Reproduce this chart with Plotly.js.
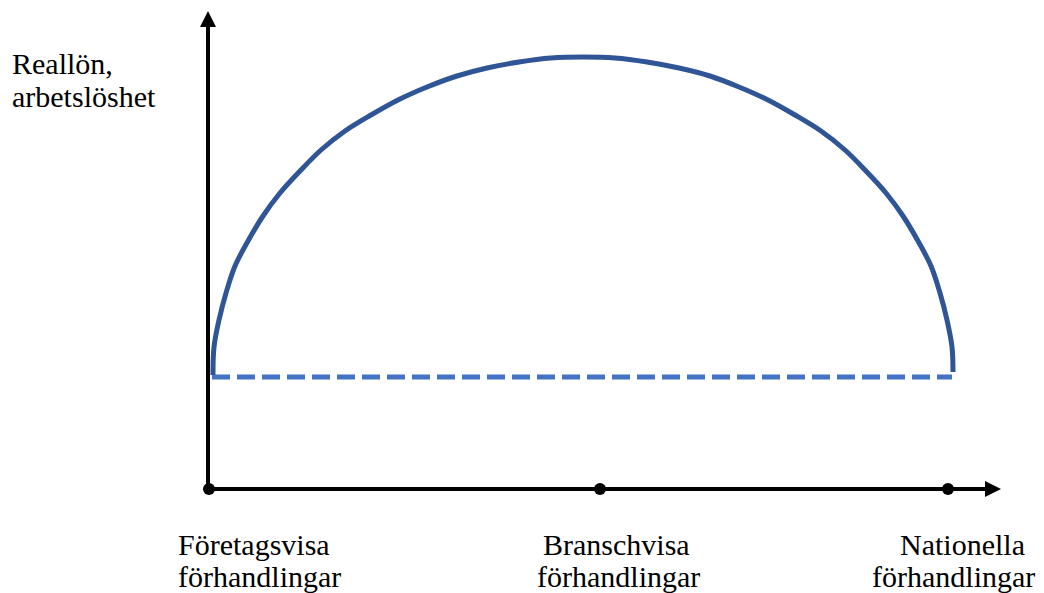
<!DOCTYPE html>
<html>
<head>
<meta charset="utf-8">
<script src="https://cdn.plot.ly/plotly-3.0.1.min.js"></script>
<style>html,body{margin:0;padding:0;background:#fff;}#chart{width:1044px;height:593px;}</style>
</head>
<body>
<div id="chart"></div>
<script>
// Hump-shaped curve (real wage / unemployment vs. degree of bargaining centralisation)
const curveX = [4,5,10,17,26,39,54,71,91,112,136,162,189,218,248,278,310,342,374,406,438,470,501,530,559,586,612,636,657,677,694,709,722,731,738,743,744];
const curveY = [114,142,169,196,223,248,273,296,318,339,358,374,389,402,413,421,427,431,432,431,427,421,413,402,389,374,358,339,318,296,273,248,223,196,169,142,117];

// Dashed reference level
const refX = [3, 743];
const refY = [112, 112];

// Bargaining levels on the x axis
const levelX = [0, 391, 739];
const levelY = [0, 0, 0];
const levelLine1 = ["Företagsvisa", "Branschvisa", "Nationella"];
const levelLine2 = ["förhandlingar", "förhandlingar", "förhandlingar"];

// Axis extents
const xAxisEnd = 792;
const yAxisEnd = 478;
const yLabel = ["Reallön,", "arbetslöshet"];

const font = {family: "Liberation Serif, Times New Roman, serif", size: 30, color: "#000"};

const traces = [
  {x: refX, y: refY, mode: "lines", line: {color: "#4472C4", width: 5, dash: "18px,7px"}, hoverinfo: "skip"},
  {x: curveX, y: curveY, mode: "lines", line: {color: "#2F5597", width: 5, shape: "spline", smoothing: 1.0}, hoverinfo: "skip"},
  {x: [0, xAxisEnd - 10], y: [0, 0], mode: "lines", line: {color: "#000", width: 4}, hoverinfo: "skip"},
  {x: [-1, -1], y: [0, yAxisEnd - 10], mode: "lines", line: {color: "#000", width: 4}, hoverinfo: "skip"},
  {x: levelX, y: levelY, mode: "markers", marker: {color: "#000", size: 12}, hoverinfo: "skip"}
];

const annotations = [
  {x: xAxisEnd, y: 0, ax: xAxisEnd - 20, ay: 0, axref: "x", ayref: "y", xref: "x", yref: "y", text: "", showarrow: true, arrowhead: 2, arrowsize: 0.8, arrowwidth: 4, arrowcolor: "#000"},
  {x: -1, y: yAxisEnd, ax: -1, ay: yAxisEnd - 20, axref: "x", ayref: "y", xref: "x", yref: "y", text: "", showarrow: true, arrowhead: 2, arrowsize: 0.8, arrowwidth: 4, arrowcolor: "#000"},
  {x: -199, y: 426, xanchor: "left", yanchor: "middle", text: yLabel[0], showarrow: false, font: font},
  {x: -199, y: 393, xanchor: "left", yanchor: "middle", text: yLabel[1], showarrow: false, font: font},
  {x: -33, y: -55, xanchor: "left", yanchor: "middle", text: levelLine1[0], showarrow: false, font: font},
  {x: -33, y: -87, xanchor: "left", yanchor: "middle", text: levelLine2[0], showarrow: false, font: font},
  {x: 407, y: -55, xanchor: "center", yanchor: "middle", text: levelLine1[1], showarrow: false, font: font},
  {x: 409, y: -87, xanchor: "center", yanchor: "middle", text: levelLine2[1], showarrow: false, font: font},
  {x: 753, y: -55, xanchor: "center", yanchor: "middle", text: levelLine1[2], showarrow: false, font: font},
  {x: 744, y: -87, xanchor: "center", yanchor: "middle", text: levelLine2[2], showarrow: false, font: font}
];

const layout = {
  width: 1044, height: 593,
  margin: {l: 0, r: 0, t: 0, b: 0, pad: 0},
  paper_bgcolor: "#fff", plot_bgcolor: "#fff",
  showlegend: false,
  xaxis: {range: [-209, 835], visible: false, fixedrange: true},
  yaxis: {range: [-104, 489], visible: false, fixedrange: true},
  annotations: annotations
};

Plotly.newPlot("chart", traces, layout, {staticPlot: true, displayModeBar: false});
</script>
</body>
</html>
